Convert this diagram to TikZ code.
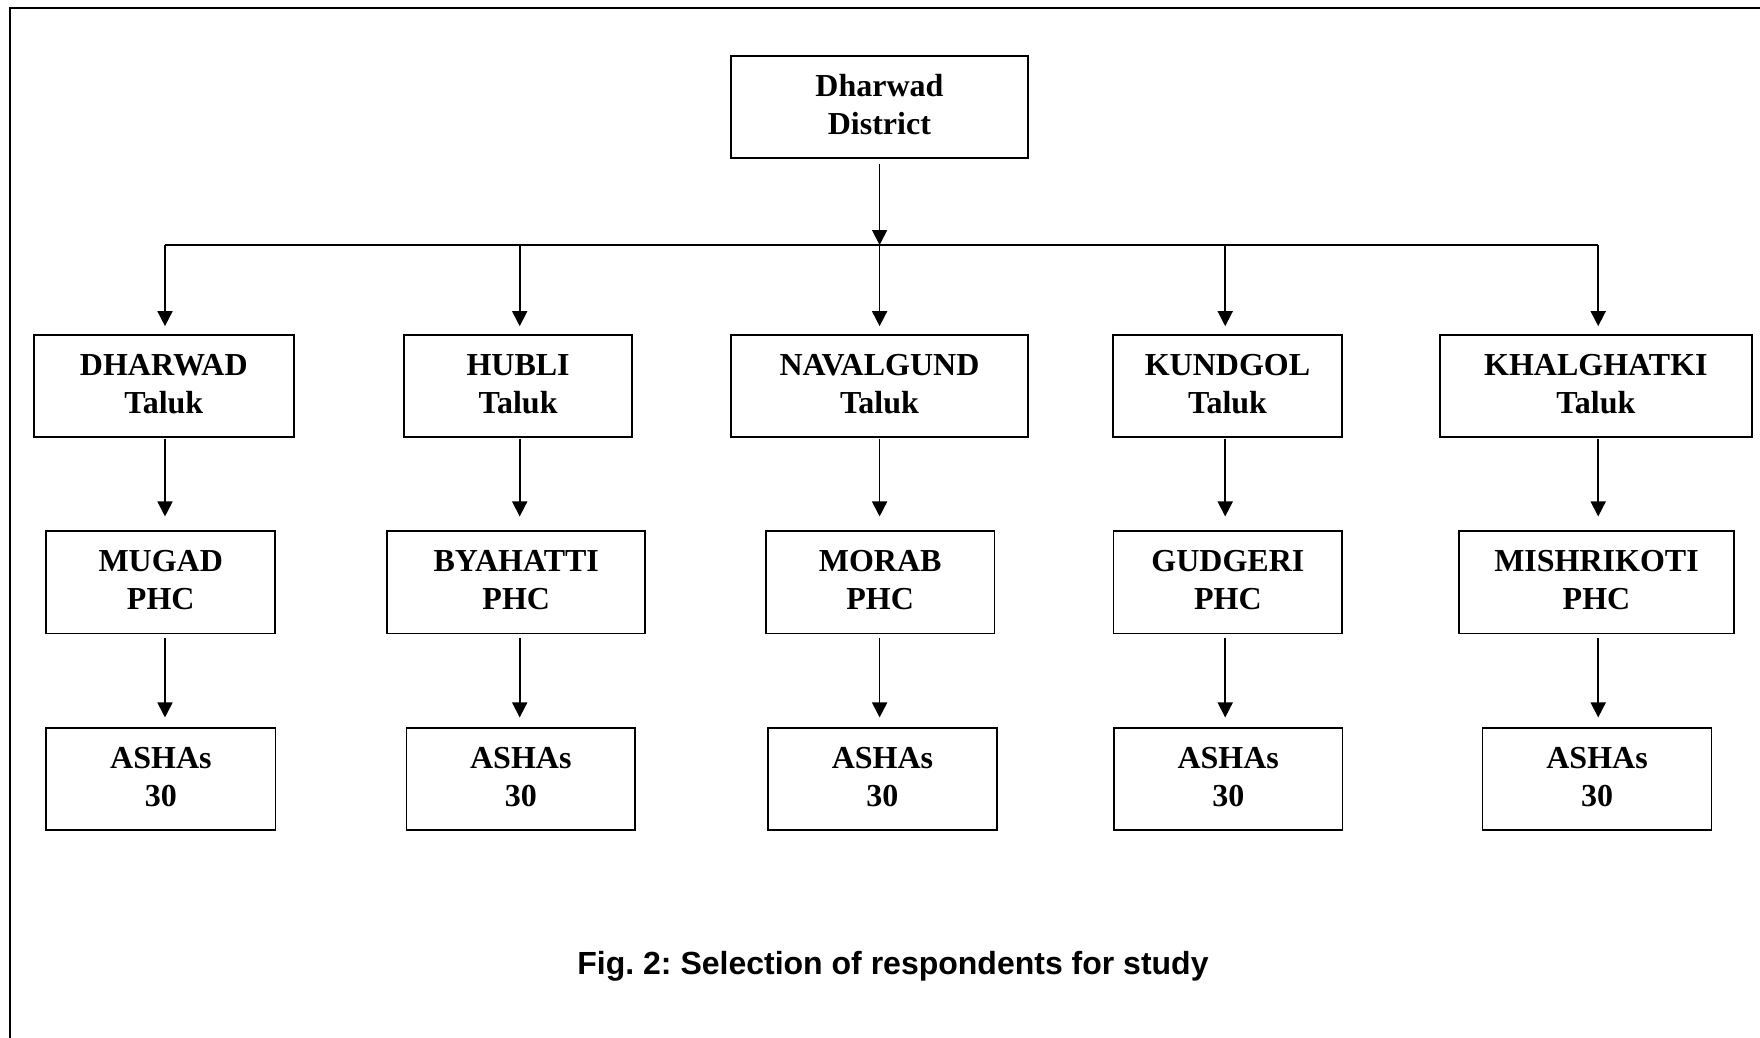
\documentclass[tikz,border=0pt]{standalone}
\usepackage{fontspec}
\setmainfont{Liberation Serif}
\newfontfamily\capfont{Liberation Sans}
\usetikzlibrary{arrows.meta}
\frenchspacing
\begin{document}
\begin{tikzpicture}[x=1pt,y=-1pt,
  box/.style={draw, line width=1.7pt, inner sep=0pt, align=center, text depth=4pt,
    font=\fontsize{32}{38}\selectfont\bfseries},
  talukbox/.style={box, minimum height=101.7pt},
  phcbox/.style={box, minimum height=102.6pt},
  ashabox/.style={box, minimum height=102.2pt},
  arr/.style={line width=1.7pt, -{Triangle[width=15pt,length=15pt]}},
  link/.style={line width=1.7pt},
  framel/.style={line width=2.6pt}]
\useasboundingbox (0,0) rectangle (1760,1037);
% frame (top and left only)
\coordinate (fbl) at (10,1045);
\coordinate (ftl) at (10,8);
\coordinate (ftr) at (1770,8);
\draw[framel] (fbl) -- (ftl) -- (ftr);

% district
\node[box, minimum width=297pt, minimum height=101.7pt] (dist) at (879.4,106.85) {Dharwad\\District};

% taluks
\node[talukbox, minimum width=260.2pt] (t1) at (163.8,385.85) {DHARWAD\\Taluk};
\node[talukbox, minimum width=228pt]   (t2) at (518.1,385.85) {HUBLI\\Taluk};
\node[talukbox, minimum width=297pt]   (t3) at (879.5,385.85) {NAVALGUND\\Taluk};
\node[talukbox, minimum width=229.4pt] (t4) at (1227.5,385.85) {KUNDGOL\\Taluk};
\node[talukbox, minimum width=311.6pt] (t5) at (1595.9,385.85) {KHALGHATKI\\Taluk};

% PHCs
\node[phcbox, minimum width=228.9pt] (p1) at (160.75,582.1) {MUGAD\\PHC};
\node[phcbox, minimum width=257.9pt] (p2) at (516.25,582.1) {BYAHATTI\\PHC};
\node[phcbox, minimum width=228.9pt] (p3) at (880.15,582.1) {MORAB\\PHC};
\node[phcbox, minimum width=228.6pt] (p4) at (1227.9,582.1) {GUDGERI\\PHC};
\node[phcbox, minimum width=274.4pt] (p5) at (1596.5,582.1) {MISHRIKOTI\\PHC};

% ASHAs
\node[ashabox, minimum width=229.2pt] (a1) at (160.9,779) {ASHAs\\30};
\node[ashabox, minimum width=228.8pt] (a2) at (520.8,779) {ASHAs\\30};
\node[ashabox, minimum width=228.9pt] (a3) at (882.45,779) {ASHAs\\30};
\node[ashabox, minimum width=228.5pt] (a4) at (1228.25,779) {ASHAs\\30};
\node[ashabox, minimum width=228.9pt] (a5) at (1597.05,779) {ASHAs\\30};

% bus coordinates (one per column)
\coordinate (c1) at (165,245);
\coordinate (c2) at (519.7,245);
\coordinate (c3) at (879.6,245);
\coordinate (c4) at (1225.2,245);
\coordinate (c5) at (1598.2,245);

\draw[link] (c1) -- (c5);
\draw[arr, shorten <=5.6pt] (dist.south -| c3) -- (c3);

\foreach \i in {1,...,5}{
  \draw[arr, shorten >=8pt] (c\i) -- (c\i |- t\i.north);
  \draw[arr, shorten <=1pt, shorten >=13.5pt] (c\i |- t\i.south) -- (c\i |- p\i.north);
  \draw[arr, shorten <=3.5pt, shorten >=9.6pt] (c\i |- p\i.south) -- (c\i |- a\i.north);
}

% caption
\node[font=\capfont\bfseries\fontsize{32}{38}\selectfont, anchor=base] (cap) at (893,974.8) {Fig. 2: Selection of respondents for study};
\end{tikzpicture}
\end{document}
